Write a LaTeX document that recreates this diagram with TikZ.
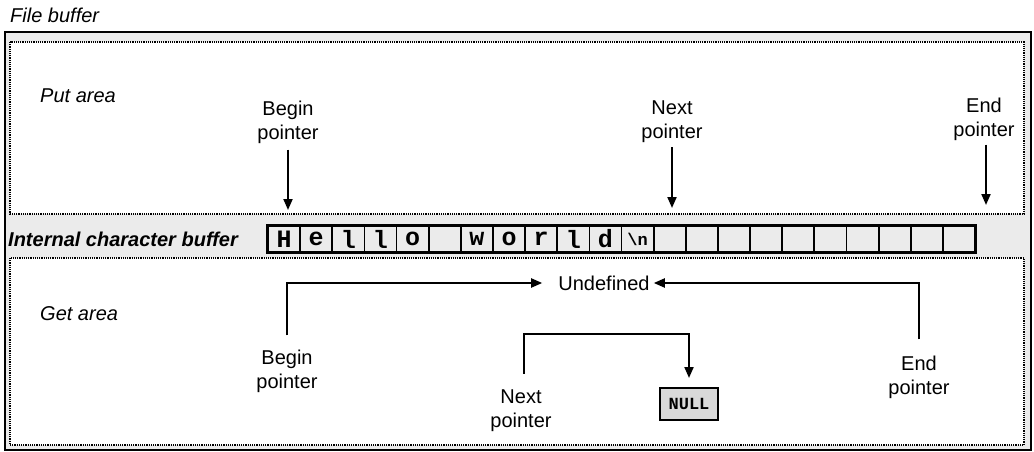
\documentclass[tikz,border=0pt]{standalone}
\usepackage{fontspec}
\setmainfont{Liberation Sans}
\newfontfamily\monofont{Liberation Mono}
\usetikzlibrary{arrows.meta}
\begin{document}
\begin{tikzpicture}[x=1pt,y=-1pt,
  lbl/.style={font=\fontsize{20}{24}\selectfont, align=center, inner sep=0pt},
  area/.style={font=\fontsize{20}{24}\selectfont\itshape, anchor=west, inner sep=0pt},
  arr/.style={line width=2pt, -{Triangle[length=11pt,width=9pt]}},
  dotbox/.style={draw, line width=1.8pt, dash pattern=on 1.2pt off 1.0pt, fill=white},
  cell/.style={draw, line width=1.8pt, minimum width=32.14pt, minimum height=26pt, inner sep=0pt,
    font=\monofont\bfseries\fontsize{25}{25}\selectfont},
]
\useasboundingbox (0,0) rectangle (1034,452);
% frames
\node[area] (fb) at (10,15) {File buffer};
\draw[line width=2pt, fill=black!8] (5,32) rectangle (1031,450);
\draw[dotbox] (10,42) rectangle (1024,214);
\draw[dotbox] (10,258) rectangle (1024,445);
% area labels
\node[area] (put) at (40,96) {Put area};
\node[area] (get) at (40,314) {Get area};
\node[area, font=\fontsize{20}{24}\selectfont\bfseries\itshape] (icb) at (8,239) {Internal character buffer};
% buffer cells
\foreach \ch [count=\i from 0] in {H,e,l,l,o,{},w,o,r,l,d,{\fontsize{17}{17}\selectfont\textbackslash n},{},{},{},{},{},{},{},{},{},{}}
  \node[cell] (c\i) at ({268+32.14*\i+16.07},239) {\ch};
\draw[line width=2.6pt] (c0.north west) rectangle (c21.south east);
% put area pointers
\node[lbl] (pb) at (288,122) {Begin\\pointer};
\node[lbl] (pn) at (672,122) {Next\\pointer};
\node[lbl] (pe) at (984,119) {End\\pointer};
\coordinate (pbt) at (288,210);
\coordinate (pnt) at (672,208);
\coordinate (pet) at (986,205);
\draw[arr, shorten <=6pt] (pb.south) -- (pbt);
\draw[arr, shorten <=4pt] (pn.south) -- (pnt);
\draw[arr, shorten <=4pt] (pe.south -| pet) -- (pet);
% get area
\node[lbl] (undef) at (604,283) {Undefined};
\node[lbl] (gb) at (287,371) {Begin\\pointer};
\node[lbl] (gn) at (521,411) {Next\\pointer};
\node[lbl] (ge) at (919,377) {End\\pointer};
\node[draw, line width=2pt, fill=black!15, minimum width=58pt, minimum height=32pt, inner sep=0pt,
  font=\monofont\bfseries\fontsize{17}{17}\selectfont] (null) at (689,404) {NULL};
\draw[arr, shorten <=14pt, shorten >=16pt] (gb.north) |- (undef.west);
\draw[arr, shorten <=16pt, shorten >=4pt] (ge.north) |- (undef.east);
\coordinate (gnc) at (524,334);
\draw[arr, shorten >=9pt] (gn.north -| gnc) ++(0,-16) |- (gnc) -| (null.north);
\end{tikzpicture}
\end{document}
